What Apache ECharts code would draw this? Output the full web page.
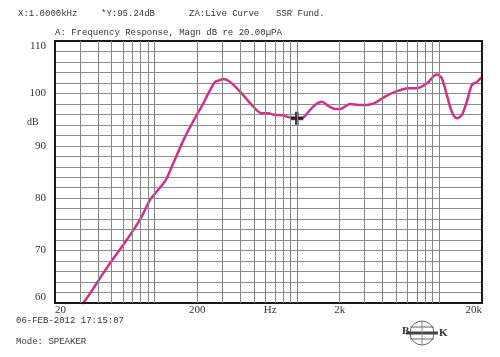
<!DOCTYPE html>
<html>
<head>
<meta charset="utf-8">
<script src="https://cdn.jsdelivr.net/npm/echarts@6/dist/echarts.min.js"></script>
<style>html,body{margin:0;padding:0;background:#fff;}#c{width:500px;height:357px;}</style>
</head>
<body>
<div id="c"></div>
<script>
// ---- data ----
const freqHz = [31, 33.4, 37.2, 43.7, 51.4, 60.4, 71, 81.3, 93, 100.9, 115.4, 121.9, 135.6, 163.9, 192.6, 220.4, 238.9, 266.2, 286, 304.7, 339.7, 410, 482, 567, 630, 703, 762, 896, 1000, 1112, 1207, 1343, 1497, 1667, 1858, 2014, 2367, 2784, 3274, 3649, 4170, 4901, 6076, 6962, 8187, 9624, 10430, 11320, 12270, 13310, 14430, 15640, 16960, 18400, 19920];
const magnDb = [59.7, 60.9, 62.8, 65.7, 68.5, 71.1, 73.9, 76.5, 79.7, 80.9, 82.8, 83.8, 86.7, 91.7, 95.3, 98.1, 100.0, 102.2, 102.5, 102.75, 102.2, 100.0, 97.8, 96.2, 96.2, 95.9, 95.9, 95.4, 95.24, 95.4, 96.5, 97.8, 98.4, 97.6, 97.0, 97.0, 98.0, 97.8, 97.9, 98.4, 99.4, 100.3, 101.0, 101.0, 101.9, 103.6, 102.9, 99.7, 96.5, 95.25, 95.9, 98.4, 101.6, 102.2, 103.1];
const cursorPoint = [1000, 95.24];
const xTickValues = [20, 200, 650, 2000, 20000];
const xTickLabels = ['20', '200', 'Hz', '2k', '20k'];
const gridFreqs = [30, 40, 50, 60, 70, 80, 90, 100, 200, 300, 400, 500, 600, 700, 800, 900, 1000, 2000, 3000, 4000, 5000, 6000, 7000, 8000, 9000, 10000];
const yLabelValues = [60, 70, 80, 90, 100, 110];

const chart = echarts.init(document.getElementById('c'), null, {renderer: 'canvas'});
const mono = 'Liberation Mono, DejaVu Sans Mono, monospace';
const serif = 'Liberation Serif, DejaVu Serif, serif';
const txt = '#333';

const option = {
  animation: false,
  backgroundColor: '#fff',
  grid: {left: 55, right: 18, top: 41, bottom: 54, show: true, borderColor: '#1a1a1a', borderWidth: 2, backgroundColor: 'transparent', z: 5},
  xAxis: {
    type: 'log', logBase: 10, min: 20, max: 20000,
    axisLine: {show: false}, axisTick: {show: false}, splitLine: {show: false},
    axisLabel: {
      customValues: xTickValues,
      formatter: v => { const i = xTickValues.findIndex(t => Math.abs(t - v) / t < 0.01); return i >= 0 ? xTickLabels[i] : ''; },
      fontFamily: serif, fontSize: 11, color: txt, margin: 2,
      alignMinLabel: 'left', alignMaxLabel: 'right', showMinLabel: true, showMaxLabel: true
    }
  },
  yAxis: {
    type: 'value', min: 60, max: 110, interval: 2,
    axisLine: {show: false}, axisTick: {show: false},
    splitLine: {show: true, lineStyle: {color: '#8c8c8c', width: 1}},
    axisLabel: {
      formatter: v => yLabelValues.indexOf(v) >= 0 ? String(v) : '',
      fontFamily: serif, fontSize: 11, color: txt, margin: 9,
      verticalAlignMinLabel: 'bottom', verticalAlignMaxLabel: 'top'
    }
  },
  series: [
    {
      name: 'grid', type: 'line', data: [], silent: true, z: 1,
      markLine: {
        silent: true, symbol: ['none', 'none'], label: {show: false},
        lineStyle: {color: '#858585', width: 1, type: 'solid'},
        data: gridFreqs.map(f => ({xAxis: f}))
      }
    },
    {
      name: 'Frequency Response', type: 'line', z: 3,
      data: freqHz.map((f, i) => [f, magnDb[i]]),
      showSymbol: false, smooth: 0.3, clip: true,
      lineStyle: {color: '#d0308a', width: 2.5}
    },
    {
      name: 'cursor', type: 'scatter', z: 4,
      data: [cursorPoint],
      symbol: 'path://M3.6,0H6.4V3.6H10V6.4H6.4V10H3.6V6.4H0V3.6H3.6Z', symbolSize: 13,
      itemStyle: {color: '#111'}
    }
  ],
  graphic: [
    {type: 'text', left: 18, top: 9, style: {text: 'X:1.0000kHz', font: '9px ' + mono, fill: txt}},
    {type: 'text', left: 101, top: 9, style: {text: '*Y:95.24dB', font: '9px ' + mono, fill: txt}},
    {type: 'text', left: 189, top: 9, style: {text: 'ZA:Live Curve', font: '9px ' + mono, fill: txt}},
    {type: 'text', left: 276, top: 9, style: {text: 'SSR Fund.', font: '9px ' + mono, fill: txt}},
    {type: 'text', left: 55, top: 28, style: {text: 'A: Frequency Response, Magn dB re 20.00\u00b5PA', font: '9px ' + mono, fill: txt}},
    {type: 'text', left: 27, top: 117, style: {text: 'dB', font: '10px ' + serif, fill: txt}},
    {type: 'text', left: 16, top: 316, style: {text: '06-FEB-2012 17:15:07', font: '9px ' + mono, fill: txt}},
    {type: 'text', left: 16, top: 337, style: {text: 'Mode: SPEAKER', font: '9px ' + mono, fill: txt}},
    {type: 'circle', shape: {cx: 422, cy: 333, r: 12}, style: {fill: 'none', stroke: '#666', lineWidth: 1}},
    {type: 'line', shape: {x1: 410, y1: 327, x2: 434, y2: 327}, style: {stroke: '#666', lineWidth: 1}},
    {type: 'line', shape: {x1: 406, y1: 333, x2: 438, y2: 333}, style: {stroke: '#444', lineWidth: 3}},
    {type: 'line', shape: {x1: 410, y1: 339, x2: 434, y2: 339}, style: {stroke: '#666', lineWidth: 1}},
    {type: 'line', shape: {x1: 422, y1: 321, x2: 422, y2: 345}, style: {stroke: '#888', lineWidth: 1}},
    {type: 'text', left: 402, top: 326, style: {text: 'B', font: 'bold 11px ' + serif, fill: '#333'}},
    {type: 'text', left: 439, top: 328, style: {text: 'K', font: 'bold 11px ' + serif, fill: '#333'}}
  ]
};
chart.setOption(option);
</script>
</body>
</html>
